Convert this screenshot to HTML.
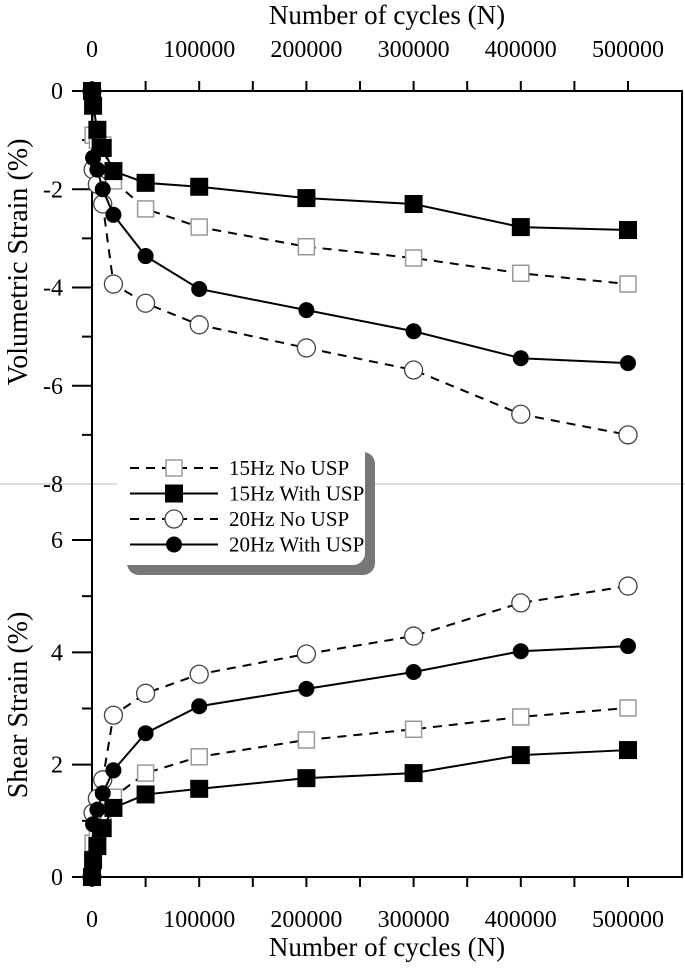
<!DOCTYPE html>
<html><head><meta charset="utf-8"><style>
html,body{margin:0;padding:0;background:#fff;}
svg{display:block;font-family:"Liberation Serif",serif;}
</style></head><body>
<svg id="chart" width="685" height="974" viewBox="0 0 685 974">
<g id="axes"></g><g id="series"></g><g id="legend"></g>
</svg>
<script>
const cycles = [1000, 5000, 10000, 20000, 50000, 100000, 200000, 300000, 400000, 500000];
const volNo15   = [-0.9, -1.0, -1.1, -1.83, -2.4, -2.77, -3.17, -3.40, -3.71, -3.93];
const volWith15 = [-0.3, -0.79, -1.16, -1.63, -1.87, -1.95, -2.18, -2.30, -2.77, -2.83];
const volNo20   = [-1.6, -1.9, -2.3, -3.93, -4.32, -4.76, -5.23, -5.68, -6.58, -7.0];
const volWith20 = [-1.36, -1.6, -2.0, -2.52, -3.36, -4.03, -4.46, -4.89, -5.44, -5.54];
const shNo15    = [0.6, 0.8, 1.0, 1.42, 1.85, 2.14, 2.44, 2.63, 2.85, 3.01];
const shWith15  = [0.3, 0.55, 0.87, 1.23, 1.47, 1.57, 1.76, 1.85, 2.17, 2.26];
const shNo20    = [1.14, 1.4, 1.73, 2.88, 3.27, 3.61, 3.97, 4.29, 4.88, 5.18];
const shWith20  = [0.94, 1.2, 1.49, 1.9, 2.56, 3.04, 3.35, 3.65, 4.02, 4.11];
const xTicks = [0, 100000, 200000, 300000, 400000, 500000];
const volTicks = [0, -2, -4, -6, -8];
const shTicks = [0, 2, 4, 6];
const legendLabels = ["15Hz No USP", "15Hz With USP", "20Hz No USP", "20Hz With USP"];

const NS = "http://www.w3.org/2000/svg";
const X0 = 92, XR = 682, TOP = 91, MID = 484, BOT = 877;
function xs(v){ return X0 + v * (628 - 92) / 500000; }
function yv(v){ return TOP - v * (MID - TOP) / 8; }
function ysh(v){ return BOT - v * (BOT - 540) / 6; }
function mk(tag, attrs, parent){ const e = document.createElementNS(NS, tag); for (const k in attrs) e.setAttribute(k, attrs[k]); parent.appendChild(e); return e; }
const axes = document.getElementById('axes');
const ser = document.getElementById('series');
const leg = document.getElementById('legend');

mk('line', {x1:0, y1:MID, x2:685, y2:MID, stroke:'#ddd', 'stroke-width':2}, axes);
const frame = mk('path', {d:`M72 ${TOP} H${XR} V${BOT} H72 M${X0} ${TOP} V${BOT}`, fill:'none', stroke:'#000', 'stroke-width':2}, axes);


for (let t = 0; t <= 500000; t += 50000) {
  const x = xs(t);
  mk('line', {x1:x, y1:TOP, x2:x, y2:TOP - 10, stroke:'#000', 'stroke-width':2}, axes);
  mk('line', {x1:x, y1:BOT, x2:x, y2:BOT + 10, stroke:'#000', 'stroke-width':2}, axes);
}
xTicks.forEach(t => {
  const a = mk('text', {x:xs(t), y:57, 'font-size':24, 'text-anchor':'middle'}, axes); a.textContent = t;
  
  
  const b = mk('text', {x:xs(t), y:927, 'font-size':24, 'text-anchor':'middle'}, axes); b.textContent = t;
  
  
});
for (let v = 0; v >= -7; v--) { const y = yv(v); mk('line', {x1:X0, y1:y, x2:v % 2 === 0 ? 72 : 82, y2:y, stroke:'#000', 'stroke-width':2}, axes); }
volTicks.forEach(v => { const t = mk('text', {x:63, y:yv(v) + 8, 'font-size':24, 'text-anchor':'end'}, axes); t.textContent = v;
  
   });
for (let v = 0; v <= 6; v++) { const y = ysh(v); mk('line', {x1:X0, y1:y, x2:v % 2 === 0 ? 72 : 82, y2:y, stroke:'#000', 'stroke-width':2}, axes); }
shTicks.forEach(v => { const t = mk('text', {x:63, y:ysh(v) + 8, 'font-size':24, 'text-anchor':'end'}, axes); t.textContent = v;
  
   });
let t1 = mk('text', {x:387, y:24, 'font-size':27, 'text-anchor':'middle'}, axes); t1.textContent = 'Number of cycles (N)';


let t2 = mk('text', {x:387, y:956, 'font-size':27, 'text-anchor':'middle'}, axes); t2.textContent = 'Number of cycles (N)';


let t3 = mk('text', {x:0, y:0, 'font-size':28, 'text-anchor':'middle', transform:'translate(27,262) rotate(-90)'}, axes); t3.textContent = 'Volumetric Strain (%)';


let t4 = mk('text', {x:0, y:0, 'font-size':28, 'text-anchor':'middle', transform:'translate(27,705) rotate(-90)'}, axes); t4.textContent = 'Shear Strain (%)';



function marker(g, type, x, y) {
  if (type === 'sqOpen') mk('rect', {x:x-8, y:y-8, width:16, height:16, fill:'#fff', stroke:'#999', 'stroke-width':1.5}, g);
  else if (type === 'sqFill') mk('rect', {x:x-9, y:y-9, width:18, height:18, fill:'#000'}, g);
  else if (type === 'cOpen') mk('circle', {cx:x, cy:y, r:9, fill:'#fff', stroke:'#444', 'stroke-width':1.3}, g);
  else mk('circle', {cx:x, cy:y, r:8, fill:'#000'}, g);
}
function series(name, vals, yf, type, dashed) {
  const g = mk('g', {}, ser);
  
  
  const pts = [[xs(0), yf(0)]].concat(cycles.map((c, i) => [xs(c), yf(vals[i])]));
  const p = mk('polyline', {points:pts.map(q => q.join(',')).join(' '), fill:'none', stroke:'#000', 'stroke-width':2}, g);
  if (dashed) p.setAttribute('stroke-dasharray', '9,7');
  pts.forEach(q => marker(g, type, q[0], q[1]));
}
series('vol-15hz-no-usp', volNo15, yv, 'sqOpen', true);
series('vol-20hz-no-usp', volNo20, yv, 'cOpen', true);
series('vol-20hz-with-usp', volWith20, yv, 'cFill', false);
series('vol-15hz-with-usp', volWith15, yv, 'sqFill', false);
series('shear-15hz-no-usp', shNo15, ysh, 'sqOpen', true);
series('shear-20hz-no-usp', shNo20, ysh, 'cOpen', true);
series('shear-20hz-with-usp', shWith20, ysh, 'cFill', false);
series('shear-15hz-with-usp', shWith15, ysh, 'sqFill', false);

const lg = mk('g', {}, leg);


mk('rect', {x:127, y:452, width:248, height:123, rx:12, fill:'#777'}, lg);
mk('rect', {x:117, y:442, width:248, height:123, rx:12, fill:'#fff'}, lg);
const types = ['sqOpen', 'sqFill', 'cOpen', 'cFill'];
const dashes = [true, false, true, false];
legendLabels.forEach((lab, i) => {
  const y = 468 + i * 25.5;
  const e = mk('g', {}, lg);
  
  
  const l = mk('line', {x1:130, y1:y, x2:218, y2:y, stroke:'#000', 'stroke-width':2}, e);
  if (dashes[i]) l.setAttribute('stroke-dasharray', '9,7');
  marker(e, types[i], 174, y);
  const t = mk('text', {x:229, y:y + 7, 'font-size':21}, e); t.textContent = lab;
});
</script>
</body></html>
